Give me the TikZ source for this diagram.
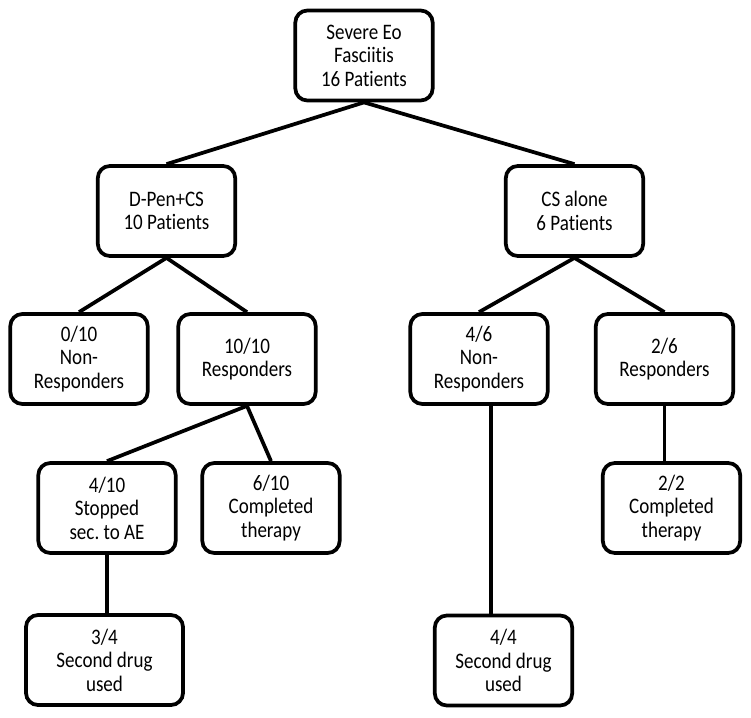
\documentclass[tikz,border=0pt]{standalone}
\usepackage{fontspec}
\setmainfont{Carlito}[FakeStretch=0.86, Ligatures=NoCommon]
\frenchspacing
\tikzset{box/.style={draw, line width=2.8pt, rounded corners=9pt, align=center,
  minimum width=103pt, minimum height=67.5pt, inner sep=0pt,
  font=\fontsize{16.6}{17.6}\selectfont}}
\tikzset{link/.style={line width=2.8pt}}

\begin{document}
\begin{tikzpicture}[x=0.75pt,y=-0.75pt]
\useasboundingbox (0,0) rectangle (751,718);

	\node[box] (root) at (364,55.5){Severe Eo\\Fasciitis\\16 Patients};

	\node[box] (dpen) at (166.5,211){D-Pen+CS\\10 Patients};
	\node[box] (csal) at (574.5,211){CS alone\\6 Patients};

	\node[box] (n010) at (79,359){0/10\\Non-\\Responders};
	\node[box] (r1010) at (247,359){10/10\\Responders};
	\node[box] (n46) at (479,359){4/6\\Non-\\Responders};
	\node[box] (r26) at (664.5,359){2/6\\Responders};

	\node[box] (s410) at (107,508){4/10\\Stopped\\sec. to AE};
	\node[box] (c610) at (271,508){6/10\\Completed\\therapy};
	\node[box] (c22) at (671.5,508){2/2\\Completed\\therapy};

	\node[box, minimum width=117.75pt] (d34) at (104.5,660){3/4\\Second drug\\used};
	\node[box] (d44) at (503.5,660.5){4/4\\Second drug\\used};


	\draw[link] (root.south) -- (dpen.north);
	\draw[link] (root.south) -- (csal.north);
	\draw[link] (dpen.south) -- (n010.north);
	\draw[link] (dpen.south) -- (r1010.north);
	\draw[link] (csal.south) -- (n46.north);
	\draw[link] (csal.south) -- (r26.north);
	\draw[link] (r1010.south) -- (s410.north);
	\draw[link] (r1010.south) -- (c610.north);
	\draw[link] (s410.south) -- (s410.south |- d34.north);
	\draw[link] ([xshift=9pt]n46.south) -- ([xshift=9pt]n46.south |- d44.north);
	\draw[link] (r26.south) -- (r26.south |- c22.north);
\end{tikzpicture}
\end{document}
